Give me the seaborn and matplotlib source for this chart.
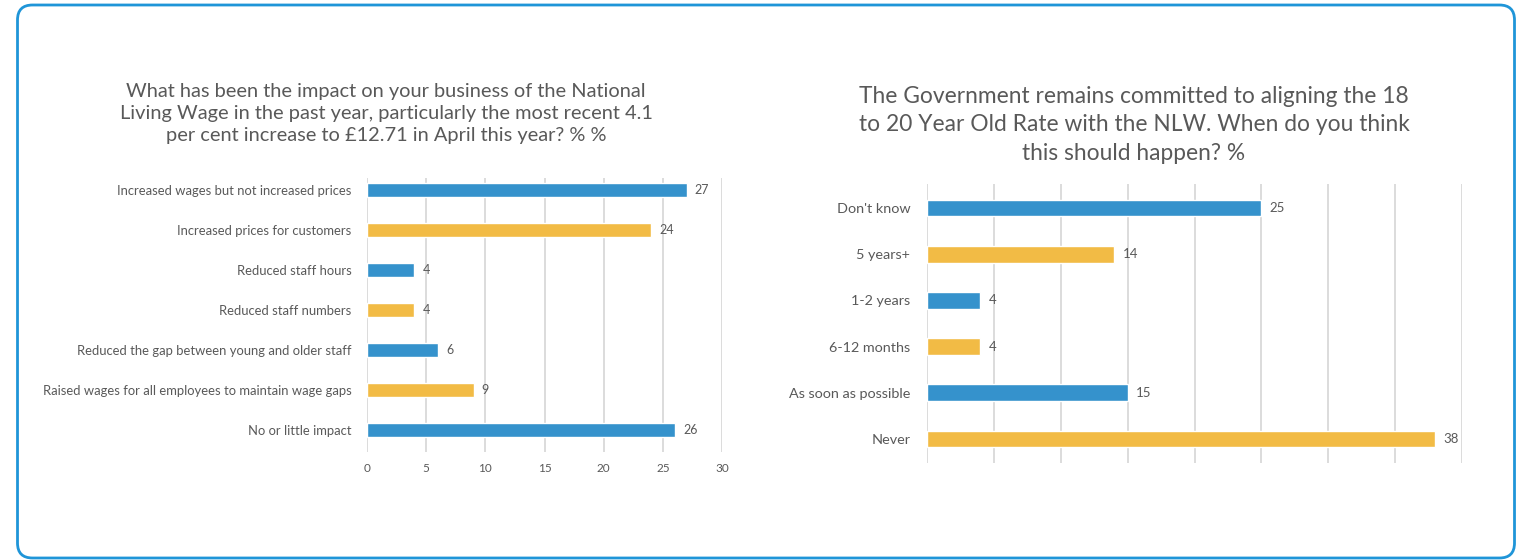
import matplotlib
matplotlib.use('Agg')
import matplotlib.pyplot as plt
from matplotlib.patches import FancyBboxPatch
import seaborn as sns
import pandas as pd

# left chart data
impact_labels = ['Increased wages but not increased prices', 'Increased prices for customers',
                 'Reduced staff hours', 'Reduced staff numbers',
                 'Reduced the gap between young and older staff',
                 'Raised wages for all employees to maintain wage gaps', 'No or little impact']
impact_values = [27, 24, 4, 4, 6, 9, 26]

# right chart data
timing_labels = ["Don't know", '5 years+', '1-2 years', '6-12 months', 'As soon as possible', 'Never']
timing_values = [25, 14, 4, 4, 15, 38]

left_title = ('What has been the impact on your business of the National\n'
              'Living Wage in the past year, particularly the most recent 4.1\n'
              'per cent increase to £12.71 in April this year? % %')
right_title = ('The Government remains committed to aligning the 18\n'
               'to 20 Year Old Rate with the NLW. When do you think\n'
               'this should happen? %')

blue = '#3592cc'
yellow = '#f2bb45'
text_col = '#595959'
grid_col = '#d9d9d9'

sns.set_style('white')
plt.rcParams['font.family'] = ['Lato', 'DejaVu Sans']

W, H = 1517, 560
fig = plt.figure(figsize=(W / 100, H / 100), dpi=100)


def px_axes(x0, x1, ytop, ybot):
    return fig.add_axes([x0 / W, 1 - ybot / H, (x1 - x0) / W, (ybot - ytop) / H])


def draw(ax, labels, values, xmax, ylim, label_fs, val_fs, show_xticks, lpad):
    df = pd.DataFrame({'label': labels, 'value': values})
    palette = [blue if i % 2 == 0 else yellow for i in range(len(labels))]
    sns.barplot(data=df, y='label', x='value', hue='label', palette=palette,
                orient='h', width=0.36, legend=False, ax=ax, saturation=1)
    ax.set_xlim(0, xmax)
    ax.set_ylim(*ylim)
    ax.set_xticks(range(0, xmax + 1, 5))
    ax.grid(axis='x', color=grid_col, linewidth=1.3)
    ax.set_axisbelow(True)
    for s in ax.spines.values():
        s.set_visible(False)
    ax.set_xlabel('')
    ax.set_ylabel('')
    ax.tick_params(axis='both', length=0, colors=text_col)
    ax.tick_params(axis='y', labelsize=label_fs, pad=lpad)
    ax.tick_params(axis='x', labelsize=val_fs - 0.5, pad=8)
    if not show_xticks:
        ax.set_xticklabels([])
    for c in ax.containers:
        ax.bar_label(c, padding=6, fontsize=val_fs, color=text_col)


ax1 = px_axes(367, 722, 178, 452)
draw(ax1, impact_labels, impact_values, 30, (6.55, -0.3), 9.4, 9, True, 11)
fig.text(386 / W, 1 - 83 / H, left_title, ha='center', va='top', fontsize=14.4,
         color=text_col, linespacing=1.36)

ax2 = px_axes(927, 1462, 184, 463)
draw(ax2, timing_labels, timing_values, 40, (5.52, -0.52), 10.4, 9.5, False, 12)
fig.text(1134 / W, 1 - 86 / H, right_title, ha='center', va='top', fontsize=16.4,
         color=text_col, linespacing=1.44)

# rounded frame
frame = FancyBboxPatch((0.175, 0.02), 14.97, 5.53,
                       boxstyle='round,pad=0,rounding_size=0.15',
                       transform=fig.dpi_scale_trans, fill=False,
                       edgecolor='#1f95d8', linewidth=2)
fig.patches.append(frame)

fig.savefig('out.png', dpi=100)
